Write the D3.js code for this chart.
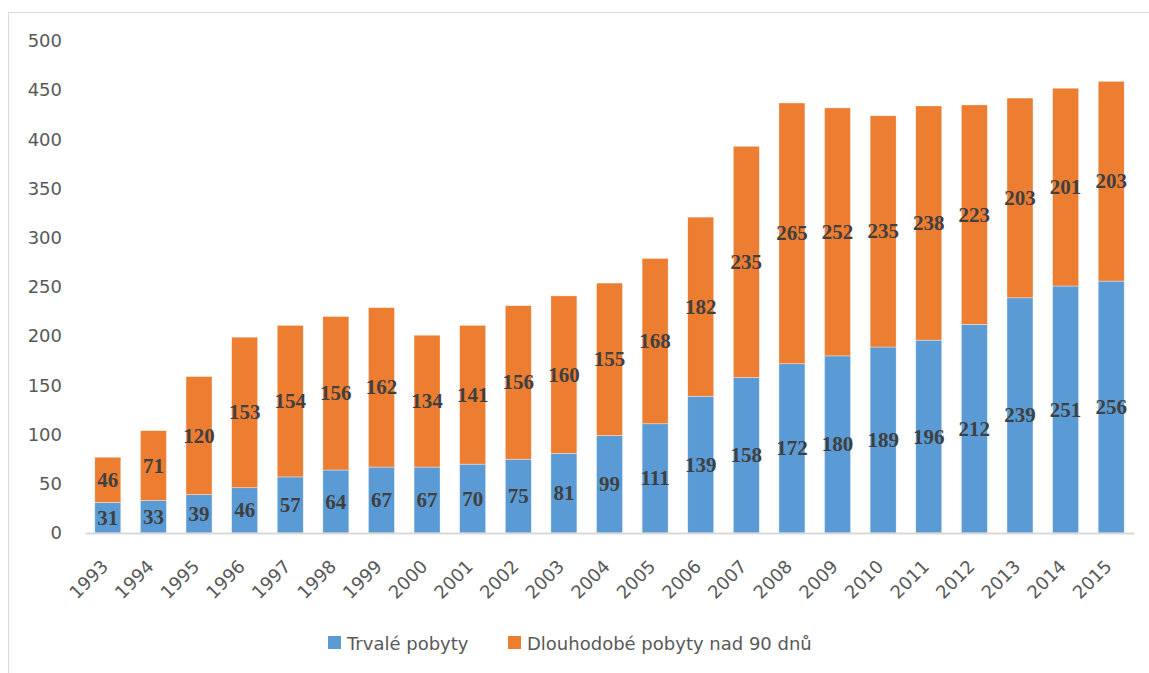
<!DOCTYPE html>
<html>
<head>
<meta charset="utf-8">
<script src="https://cdn.jsdelivr.net/npm/d3@7"></script>
<style>
  html, body { margin: 0; padding: 0; background: #fff; }
  svg { display: block; }
</style>
</head>
<body>
<svg id="chart" width="1149" height="673"></svg>
<script>
const years = ["1993","1994","1995","1996","1997","1998","1999","2000","2001","2002","2003","2004","2005","2006","2007","2008","2009","2010","2011","2012","2013","2014","2015"];
const trvale = [31,33,39,46,57,64,67,67,70,75,81,99,111,139,158,172,180,189,196,212,239,251,256];
const dlouhodobe = [46,71,120,153,154,156,162,134,141,156,160,155,168,182,235,265,252,235,238,223,203,201,203];
const seriesNames = ["Trvalé pobyty", "Dlouhodobé pobyty nad 90 dnů"];
const seriesColors = ["#5b9bd5", "#ed7d31"];
const yTicks = [0,50,100,150,200,250,300,350,400,450,500];

const svg = d3.select("#chart");

// chart border (top & left visible)
svg.append("line").attr("x1", 8.5).attr("y1", 12.5).attr("x2", 1149).attr("y2", 12.5)
  .attr("stroke", "#d9d9d9").attr("stroke-width", 1);
svg.append("line").attr("x1", 8.5).attr("y1", 12.5).attr("x2", 8.5).attr("y2", 673)
  .attr("stroke", "#d9d9d9").attr("stroke-width", 1);

const x = d3.scaleBand().domain(years).range([85, 1134]).paddingInner(0.43).paddingOuter(0.215);
const y = d3.scaleLinear().domain([0, 500]).range([533, 41]);

const data = years.map((yr, i) => ({ year: yr, trvale: trvale[i], dlouhodobe: dlouhodobe[i] }));
const stack = d3.stack().keys(["trvale", "dlouhodobe"]);
const stacked = stack(data);

// y axis labels
const yAxis = d3.axisLeft(y).tickValues(yTicks).tickSize(0).tickPadding(0);
const yg = svg.append("g").attr("transform", "translate(62,0)").call(yAxis);
yg.select(".domain").remove();
yg.selectAll("text").attr("font-family", "DejaVu Sans, sans-serif").attr("font-size", 18)
  .attr("fill", "#595959");

// bars
const groups = svg.append("g").selectAll("g").data(stacked).join("g")
  .attr("fill", (d, i) => seriesColors[i]);
groups.selectAll("rect").data(d => d).join("rect")
  .attr("x", d => x(d.data.year))
  .attr("width", x.bandwidth())
  .attr("y", d => y(d[1]))
  .attr("height", d => y(d[0]) - y(d[1]))
  .attr("stroke", "#ffffff").attr("stroke-width", 0.6).attr("stroke-opacity", 0.6);

// x axis
const xAxis = d3.axisBottom(x).tickSize(0).tickPadding(0);
const xg = svg.append("g").attr("transform", "translate(0,533)").call(xAxis);
xg.select(".domain").attr("stroke", "#d9d9d9").attr("stroke-width", 2);
xg.selectAll("text")
  .attr("font-family", "DejaVu Sans, sans-serif").attr("font-size", 18).attr("fill", "#595959")
  .attr("text-anchor", "end")
  .attr("dy", null).attr("y", 0)
  .attr("transform", "translate(-2,31) rotate(-45)")
  .attr("dominant-baseline", "middle");

// data labels
const labelG = svg.append("g");
stacked.forEach((s, si) => {
  labelG.selectAll(null).data(s).join("text")
    .attr("x", d => x(d.data.year) + x.bandwidth() / 2)
    .attr("y", d => (y(d[0]) + y(d[1])) / 2)
    .attr("text-anchor", "middle")
    .attr("dominant-baseline", "central")
    .attr("font-family", "Liberation Serif, Times New Roman, serif")
    .attr("font-weight", "bold")
    .attr("font-size", 21)
    .attr("fill", "#404040")
    .text(d => d[1] - d[0]);
});

// legend
const legend = svg.append("g");
const legendItems = [{ x: 328, name: seriesNames[0], color: seriesColors[0] },
                     { x: 508, name: seriesNames[1], color: seriesColors[1] }];
legendItems.forEach(it => {
  legend.append("rect").attr("x", it.x).attr("y", 636).attr("width", 13).attr("height", 13).attr("fill", it.color);
  legend.append("text").attr("x", it.x + 19).attr("y", 643).attr("dominant-baseline", "central")
    .attr("font-family", "DejaVu Sans, sans-serif").attr("font-size", 18).attr("fill", "#595959")
    .text(it.name);
});
</script>
</body>
</html>
